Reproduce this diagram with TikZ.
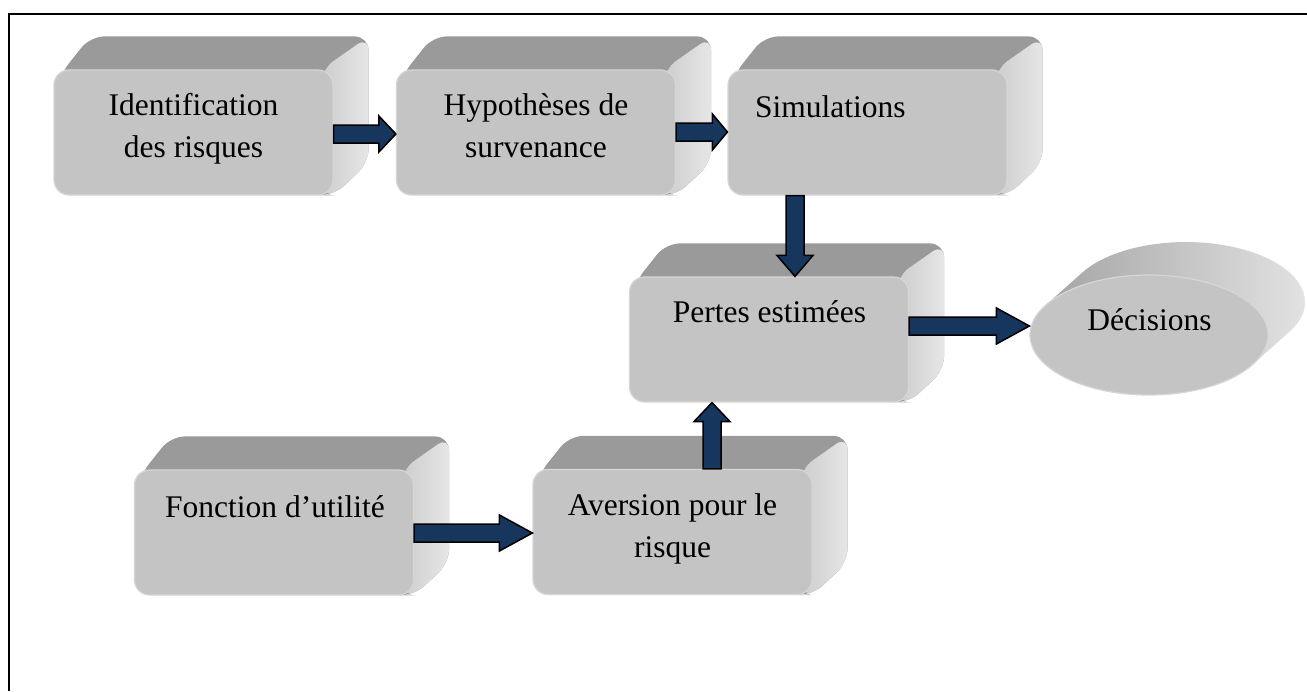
\documentclass[tikz,border=0pt]{standalone}
\usepackage{fontspec}
\setmainfont{Liberation Serif}
\usetikzlibrary{shapes.geometric}
\definecolor{frontcol}{HTML}{C4C4C4}
\definecolor{frontedge}{HTML}{D6D6D6}
\definecolor{topcol}{HTML}{9A9A9A}
\definecolor{sideL}{HTML}{CDCDCD}
\definecolor{sideR}{HTML}{E6E6E6}
\definecolor{ellL}{HTML}{A4A4A4}
\definecolor{ellR}{HTML}{E6E6E6}
\definecolor{navy}{HTML}{17365D}
\pgfdeclarelayer{bg}
\pgfdeclarelayer{back}
\pgfsetlayers{bg,back,main}
\tikzset{
  frontface/.style={rectangle, rounded corners=15pt, fill=frontcol, draw=frontedge, line width=1.2pt,
    minimum width=279pt, minimum height=125pt, inner sep=0pt},
  labeltext/.style={font=\fontsize{31.5}{42}\selectfont, inner sep=0pt, align=center},
  blockarr/.style={fill=navy, draw=black, line width=1.5pt, line join=miter},
  topface/.style={fill=topcol},
  sideface/.style={left color=sideL, right color=sideR},
}
\newcommand\extrude[1]{%
  \begin{pgfonlayer}{back}
    \fill[topface] ([shift={(6,6)}]#1.north west) [rounded corners=14pt] -- ([shift={(37,-33)}]#1.north west)
      -- ([shift={(35,-33)}]#1.north east) -- ([shift={(35,-33)}]#1.south east)
      -- (#1.south east) -- ([shift={(0,-10)}]#1.south west) -- cycle;
    \shade[sideface] ([shift={(-12,0)}]#1.north east) [rounded corners=14pt] -- ([shift={(35,-33)}]#1.north east)
      -- ([shift={(35,-33)}]#1.south east) -- (#1.south east) -- ([shift={(-12,0)}]#1.south east) -- cycle;
  \end{pgfonlayer}}
\newcommand\hblockarrow[4]{% from, to, y, head length
  \coordinate (hy) at (0,#3);
  \path (#1.east |- hy) coordinate (as) (#2.west |- hy) coordinate (ae);
  \draw[blockarr] ([shift={(0,-9)}]as) -- ([shift={(-#4,-9)}]ae) -- ([shift={(-#4,-18)}]ae)
    -- (ae) -- ([shift={(-#4,18)}]ae) -- ([shift={(-#4,9)}]ae) -- ([shift={(0,9)}]as) -- cycle;}
\newcommand\vblockarrow[4]{% from anchor, to anchor, x, signed head offset
  \coordinate (vx) at (#3,0);
  \path (#1 -| vx) coordinate (as) (#2 -| vx) coordinate (ae);
  \draw[blockarr] ([shift={(-9,0)}]as) -- ([shift={(-9,#4)}]ae) -- ([shift={(-18,#4)}]ae)
    -- (ae) -- ([shift={(18,#4)}]ae) -- ([shift={(9,#4)}]ae) -- ([shift={(9,0)}]as) -- cycle;}
\begin{document}
\begin{tikzpicture}[x=1pt,y=-1pt]
\useasboundingbox (0,0) rectangle (1307,691);
\begin{pgfonlayer}{bg}
\fill[white] (0,0) rectangle (1307,691);
\end{pgfonlayer}
\draw[line width=2.2pt] (9,691) -- (9,14) -- (1307,14);

% front faces
\node[frontface] (n1) at (193.5,132.5) {};
\node[frontface] (n2) at (536,132.5) {};
\node[frontface] (n3) at (867.5,132.5) {};
\node[frontface] (n4) at (769,339.5) {};
\node[frontface] (n6) at (274,532.5) {};
\node[frontface] (n7) at (672.5,532) {};
\extrude{n1}\extrude{n2}\extrude{n3}\extrude{n4}\extrude{n6}\extrude{n7}

% ellipse
\begin{pgfonlayer}{back}
\shade[left color=ellL, right color=ellR] (1045.4,305.5) -- (1082.4,272.5)
  arc[start angle=150.5, end angle=-29.5, x radius=119pt, y radius=60pt] -- (1252.6,364.5) -- cycle;
\end{pgfonlayer}
\node[ellipse, fill=frontcol, draw=frontedge, line width=1.2pt, minimum width=238pt,
  minimum height=120pt, inner sep=0pt] (n5) at (1149,335) {};

% texts
\node[labeltext] (t1) at (193.5,129) {Identification\\des risques};
\node[labeltext] (t2) at (536,125.5) {Hypothèses de\\survenance};
\node[labeltext, anchor=base west] (t3) at (755,117) {Simulations};
\node[labeltext, anchor=base] (t4) at (769.5,322) {Pertes estimées};
\node[labeltext, anchor=base] (t5) at (1149.5,330) {Décisions};
\node[labeltext, anchor=base] (t6) at (275,517) {Fonction d’utilité};
\node[labeltext] (t7) at (672.5,529) {Aversion pour le\\risque};

% arrows
\hblockarrow{n1}{n2}{134}{17}
\hblockarrow{n2}{n3}{132}{15}
\hblockarrow{n4}{n5}{326}{33}
\hblockarrow{n6}{n7}{533}{33}
\vblockarrow{n3.south}{n4.north}{795}{-21}
\vblockarrow{n7.north}{n4.south}{712}{19}
\end{tikzpicture}
\end{document}
